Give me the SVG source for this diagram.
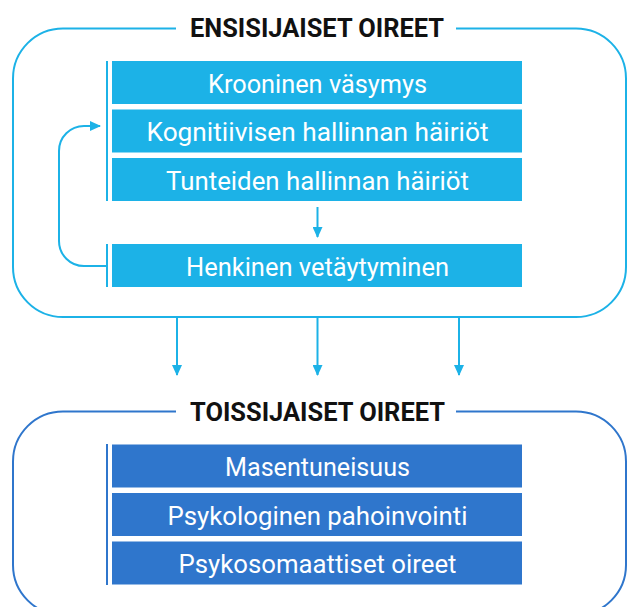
<svg xmlns="http://www.w3.org/2000/svg" width="628" height="607" viewBox="0 0 628 607">
<defs>
<style>
.title{font-family:Roboto,"Liberation Sans",sans-serif;font-weight:bold;font-size:25px;fill:#111;text-anchor:middle}
.lbl{font-family:Roboto,"Liberation Sans",sans-serif;font-size:25px;fill:#fff;text-anchor:middle}
.c1{fill:#1CB2E7}
.c2{fill:#2F76CC}
.s1{fill:none;stroke:#1CB2E7;stroke-width:2}
.s2{fill:none;stroke:#2F76CC;stroke-width:2}
</style>
<marker id="ah" markerWidth="11" markerHeight="10" refX="10" refY="5" orient="auto" markerUnits="userSpaceOnUse">
<path d="M0,0 L11,5 L0,10 Z" fill="#1CB2E7"/>
</marker>
</defs>
<rect width="628" height="607" fill="#fff"/>
<g id="primary">
<path class="s1" d="M176,28.5 H63 A50,50 0 0 0 13,78.5 V267 A50,50 0 0 0 63,317 H576 A50,50 0 0 0 626,267 V78.5 A50,50 0 0 0 576,28.5 H456"/>
<text class="title" x="317" y="37" textLength="254" lengthAdjust="spacingAndGlyphs">ENSISIJAISET OIREET</text>
<line class="s1" x1="107" y1="61" x2="107" y2="201"/>
<line class="s1" x1="107" y1="244" x2="107" y2="287"/>
</g>
<g id="n1"><rect class="c1" x="112" y="61" width="410" height="43"/><text class="lbl" x="317.5" y="92.7" textLength="219" lengthAdjust="spacingAndGlyphs">Krooninen väsymys</text></g>
<g id="n2"><rect class="c1" x="112" y="109.5" width="410" height="43"/><text class="lbl" x="317.5" y="141.2" textLength="342" lengthAdjust="spacingAndGlyphs">Kognitiivisen hallinnan häiriöt</text></g>
<g id="n3"><rect class="c1" x="112" y="158" width="410" height="43"/><text class="lbl" x="317.5" y="189.7" textLength="303" lengthAdjust="spacingAndGlyphs">Tunteiden hallinnan häiriöt</text></g>
<g id="n4"><rect class="c1" x="112" y="244" width="410" height="43"/><text class="lbl" x="317.5" y="275.5" textLength="263" lengthAdjust="spacingAndGlyphs">Henkinen vetäytyminen</text></g>
<g id="secondary">
<path class="s2" d="M176,411.5 H63 A50,50 0 0 0 13,461.5 V565 A50,50 0 0 0 63,615 H576 A50,50 0 0 0 626,565 V461.5 A50,50 0 0 0 576,411.5 H456"/>
<text class="title" x="317.5" y="421" textLength="255" lengthAdjust="spacingAndGlyphs">TOISSIJAISET OIREET</text>
<line class="s2" x1="107" y1="444" x2="107" y2="585"/>
</g>
<g id="m1"><rect class="c2" x="112" y="444.5" width="410" height="43"/><text class="lbl" x="317.5" y="476" textLength="185" lengthAdjust="spacingAndGlyphs">Masentuneisuus</text></g>
<g id="m2"><rect class="c2" x="112" y="493" width="410" height="43"/><text class="lbl" x="317.5" y="524.7" textLength="300" lengthAdjust="spacingAndGlyphs">Psykologinen pahoinvointi</text></g>
<g id="m3"><rect class="c2" x="112" y="541.5" width="410" height="43"/><text class="lbl" x="317.5" y="573.2" textLength="278" lengthAdjust="spacingAndGlyphs">Psykosomaattiset oireet</text></g>
<g id="connectors">
<line class="s1" x1="317.5" y1="207" x2="317.5" y2="237" marker-end="url(#ah)"/>
<line class="s1" x1="177" y1="318" x2="177" y2="375" marker-end="url(#ah)"/>
<line class="s1" x1="317.5" y1="318" x2="317.5" y2="375" marker-end="url(#ah)"/>
<line class="s1" x1="459" y1="318" x2="459" y2="375" marker-end="url(#ah)"/>
<path class="s1" d="M107,266 H84 A25,25 0 0 1 59,241 V151 A25,25 0 0 1 84,126 H100" marker-end="url(#ah)"/>
</g>
</svg>
